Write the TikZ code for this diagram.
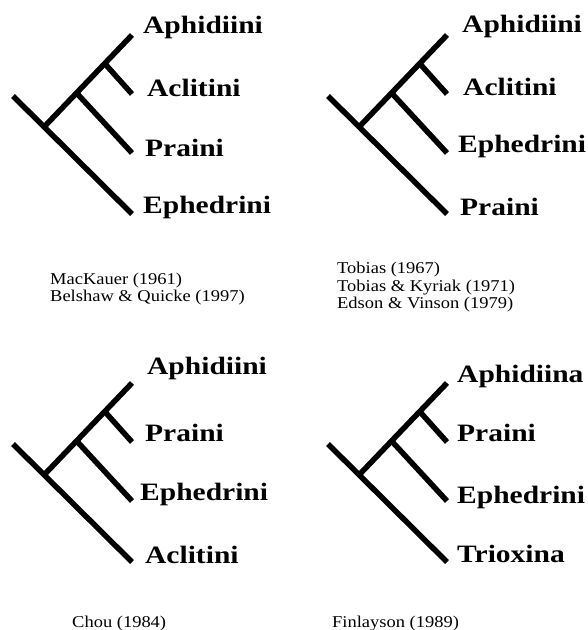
\documentclass[tikz,border=0pt]{standalone}
\usepackage{fontspec}
\setmainfont{Liberation Serif}
\newfontfamily\taxonfont[FakeStretch=1.18]{Liberation Serif}
\newfontfamily\citefont[FakeStretch=1.12]{Liberation Serif}
\usetikzlibrary{calc}

\begin{document}
\begin{tikzpicture}[x=1pt, y=-1pt,
  branch/.style={line width=5.5pt, black},
  taxon/.style={anchor=base west, inner sep=0pt,
    font=\taxonfont\bfseries\fontsize{25}{28}\selectfont},
  source/.style={anchor=base west, inner sep=0pt,
    font=\citefont\fontsize{16.5}{19}\selectfont},
]
\useasboundingbox (0,0) rectangle (588,630);

% MacKauer tree
\coordinate (a0) at (13,96);
\coordinate (aj) at (44,127);
\coordinate (a1) at (132,35);
\coordinate (a2) at (132,94);
\coordinate (a3) at (132,153);
\coordinate (a4) at (132,214);
\coordinate (ak) at ($(aj)!0.37!(a1)$);
\coordinate (al) at ($(aj)!0.69!(a1)$);
\draw[branch] (a0) -- (a4);
\draw[branch] (aj) -- (a1);
\draw[branch] (ak) -- (a3);
\draw[branch] (al) -- (a2);
\node[taxon] (aphA) at (143,33) {Aphidiini};
\node[taxon] (aclA) at (147,96) {Aclitini};
\node[taxon] (praA) at (145,156) {Praini};
\node[taxon] (ephA) at (143,213) {Ephedrini};

% Tobias tree
\begin{scope}[shift={(315,0)}]
\coordinate (b0) at (13,96);
\coordinate (bj) at (44,127);
\coordinate (b1) at (132,35);
\coordinate (b2) at (132,94);
\coordinate (b3) at (132,153);
\coordinate (b4) at (132,214);
\end{scope}
\coordinate (bk) at ($(bj)!0.37!(b1)$);
\coordinate (bl) at ($(bj)!0.69!(b1)$);
\draw[branch] (b0) -- (b4);
\draw[branch] (bj) -- (b1);
\draw[branch] (bk) -- (b3);
\draw[branch] (bl) -- (b2);
\node[taxon] (aphB) at (462,32) {Aphidiini};
\node[taxon] (aclB) at (463,95) {Aclitini};
\node[taxon] (ephB) at (458,152) {Ephedrini};
\node[taxon] (praB) at (460,215) {Praini};

% Chou tree
\begin{scope}[shift={(0,348)}]
\coordinate (c0) at (13,96);
\coordinate (cj) at (44,127);
\coordinate (c1) at (132,35);
\coordinate (c2) at (132,94);
\coordinate (c3) at (132,153);
\coordinate (c4) at (132,214);
\end{scope}
\coordinate (ck) at ($(cj)!0.37!(c1)$);
\coordinate (cl) at ($(cj)!0.69!(c1)$);
\draw[branch] (c0) -- (c4);
\draw[branch] (cj) -- (c1);
\draw[branch] (ck) -- (c3);
\draw[branch] (cl) -- (c2);
\node[taxon] (aphC) at (147,374) {Aphidiini};
\node[taxon] (praC) at (145,441) {Praini};
\node[taxon] (ephC) at (140,500) {Ephedrini};
\node[taxon] (aclC) at (145,563) {Aclitini};

% Finlayson tree
\begin{scope}[shift={(315,348)}]
\coordinate (d0) at (13,96);
\coordinate (dj) at (44,127);
\coordinate (d1) at (132,35);
\coordinate (d2) at (132,94);
\coordinate (d3) at (132,153);
\coordinate (d4) at (132,214);
\end{scope}
\coordinate (dk) at ($(dj)!0.37!(d1)$);
\coordinate (dl) at ($(dj)!0.69!(d1)$);
\draw[branch] (d0) -- (d4);
\draw[branch] (dj) -- (d1);
\draw[branch] (dk) -- (d3);
\draw[branch] (dl) -- (d2);
\node[taxon] (aphD) at (457,382) {Aphidiina};
\node[taxon] (praD) at (457,441) {Praini};
\node[taxon] (ephD) at (457,503) {Ephedrini};
\node[taxon] (triD) at (457,562) {Trioxina};

% sources
\node[source] (mac) at (50,284) {MacKauer (1961)};
\node[source] (bel) at (50,301) {Belshaw \& Quicke (1997)};
\node[source] (tob) at (337,273) {Tobias (1967)};
\node[source] (tky) at (337,291) {Tobias \& Kyriak (1971)};
\node[source] (edv) at (337,308) {Edson \& Vinson (1979)};
\node[source] (chou) at (72,627) {Chou (1984)};
\node[source] (fin) at (332,627) {Finlayson (1989)};
\end{tikzpicture}
\end{document}
